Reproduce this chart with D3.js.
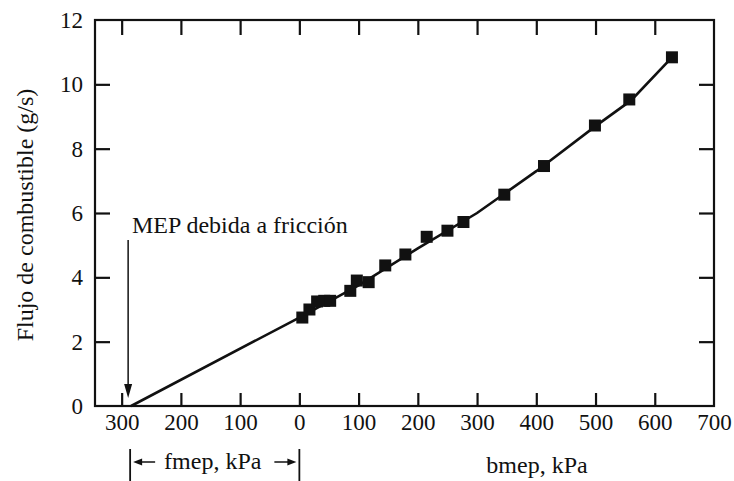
<!DOCTYPE html>
<html>
<head>
<meta charset="utf-8">
<script src="https://cdn.jsdelivr.net/npm/d3@7"></script>
<style>
  body { margin: 0; background: #fff; }
  svg text { font-family: "Liberation Serif", Tinos, "Times New Roman", Times, "DejaVu Serif", "Noto Serif", serif !important; fill: #111; }
</style>
</head>
<body>
<script>
// measured points: bmep (kPa) vs fuel flow (g/s)
var bmep = [5, 17, 30, 42, 52, 86, 97, 117, 145, 179, 215, 250, 277, 346, 413, 499, 557, 629];
var fuel = [2.75, 3.0, 3.25, 3.27, 3.27, 3.58, 3.9, 3.85, 4.37, 4.71, 5.26, 5.45, 5.72, 6.57, 7.46, 8.72, 9.53, 10.84];

// fitted line, extrapolated back to zero flow
var lineX = [-284, 0, 100, 200, 300, 400, 500, 560, 629];
var lineY = [0, 2.75, 3.75, 4.9, 6.0, 7.3, 8.7, 9.5, 10.84];

var xTicks = [-300, -200, -100, 0, 100, 200, 300, 400, 500, 600, 700];
var yTicks = [0, 2, 4, 6, 8, 10, 12];
var fmep = -284;

var w = 734, h = 481;
var pLeft = 95, pRight = 714, pTop = 20, pBottom = 406;
var serif = "'Liberation Serif', Tinos, 'Times New Roman', Times, 'DejaVu Serif', serif";

var svg = d3.select("body").append("svg")
    .attr("width", w)
    .attr("height", h)
    .attr("font-family", serif);

var x = d3.scaleLinear().domain([-345, 700]).range([pLeft, pRight]);
var y = d3.scaleLinear().domain([0, 12]).range([pBottom, pTop]);

function styleAxis(g) {
  g.attr("font-family", serif);
  g.select(".domain").remove();
  g.selectAll(".tick line").attr("stroke", "#111").attr("stroke-width", 2.2);
  g.selectAll(".tick text").attr("font-size", "23px").attr("fill", "#111");
}

// bottom axis with labels (absolute values on both sides of 0)
svg.append("g")
   .attr("transform", "translate(0," + pBottom + ")")
   .call(d3.axisBottom(x).tickValues(xTicks)
     .tickSize(-13).tickPadding(8)
     .tickFormat(function(d) { return Math.abs(d); }))
   .call(styleAxis)
   .selectAll(".tick line").filter(function(d) { return d === 700; }).remove();

// top axis, ticks only
svg.append("g")
   .attr("transform", "translate(0," + pTop + ")")
   .call(d3.axisTop(x).tickValues(xTicks.slice(0, -1)).tickSize(-15).tickFormat(""))
   .call(styleAxis);

// left axis
svg.append("g")
   .attr("transform", "translate(" + pLeft + ",0)")
   .call(d3.axisLeft(y).tickValues(yTicks).tickSize(-15).tickPadding(12))
   .call(styleAxis)
   .selectAll(".tick line").filter(function(d) { return d === 0 || d === 12; }).remove();

// right axis, ticks only
svg.append("g")
   .attr("transform", "translate(" + pRight + ",0)")
   .call(d3.axisRight(y).tickValues(yTicks.slice(1, -1)).tickSize(-15).tickFormat(""))
   .call(styleAxis);

// frame
svg.append("rect")
   .attr("x", pLeft)
   .attr("y", pTop)
   .attr("width", pRight - pLeft)
   .attr("height", pBottom - pTop)
   .attr("fill", "none")
   .attr("stroke", "#111")
   .attr("stroke-width", 2.2);

// fitted line
var line = d3.line()
    .x(function(d, i) { return x(lineX[i]); })
    .y(function(d, i) { return y(lineY[i]); });

svg.append("path")
   .datum(lineX)
   .attr("d", line)
   .attr("fill", "none")
   .attr("stroke", "#111")
   .attr("stroke-width", 2.6);

// square markers
var sq = 12;
svg.selectAll("rect.pt")
   .data(bmep)
   .enter()
   .append("rect")
   .attr("class", "pt")
   .attr("x", function(d) { return x(d) - sq / 2; })
   .attr("y", function(d, i) { return y(fuel[i]) - sq / 2; })
   .attr("width", sq)
   .attr("height", sq)
   .attr("fill", "#111");

// friction MEP annotation
var ax = x(fmep) - 3;
svg.append("line")
   .attr("x1", ax).attr("x2", ax)
   .attr("y1", 240).attr("y2", 386)
   .attr("stroke", "#111").attr("stroke-width", 1.5);
svg.append("path")
   .attr("d", "M" + (ax - 4) + ",384 L" + (ax + 4) + ",384 L" + ax + ",398 Z")
   .attr("fill", "#111");
svg.append("text")
   .attr("x", 132)
   .attr("y", 233)
   .attr("font-size", "24px")
   .text("MEP debida a fricción");

// y axis title
svg.append("text")
   .attr("transform", "translate(33,215) rotate(-90)")
   .attr("text-anchor", "middle")
   .attr("font-size", "24px")
   .text("Flujo de combustible (g/s)");

// fmep bracket
var bx1 = x(fmep) - 1, bx2 = x(0);
[bx1, bx2].forEach(function(bx) {
  svg.append("line")
     .attr("x1", bx).attr("x2", bx)
     .attr("y1", 449).attr("y2", 481)
     .attr("stroke", "#111").attr("stroke-width", 1.8);
});
svg.append("line")
   .attr("x1", bx1 + 6).attr("x2", bx1 + 25).attr("y1", 462).attr("y2", 462)
   .attr("stroke", "#111").attr("stroke-width", 1.5);
svg.append("path")
   .attr("d", "M" + (bx1 + 3) + ",462 L" + (bx1 + 12) + ",458.5 L" + (bx1 + 12) + ",465.5 Z")
   .attr("fill", "#111");
svg.append("line")
   .attr("x1", bx2 - 25).attr("x2", bx2 - 6).attr("y1", 462).attr("y2", 462)
   .attr("stroke", "#111").attr("stroke-width", 1.5);
svg.append("path")
   .attr("d", "M" + (bx2 - 3) + ",462 L" + (bx2 - 12) + ",458.5 L" + (bx2 - 12) + ",465.5 Z")
   .attr("fill", "#111");
svg.append("text")
   .attr("x", (bx1 + bx2) / 2 - 2)
   .attr("y", 469)
   .attr("text-anchor", "middle")
   .attr("font-size", "24px")
   .text("fmep, kPa");

svg.append("text")
   .attr("x", 537)
   .attr("y", 473)
   .attr("text-anchor", "middle")
   .attr("font-size", "24px")
   .text("bmep, kPa");
</script>
</body>
</html>
